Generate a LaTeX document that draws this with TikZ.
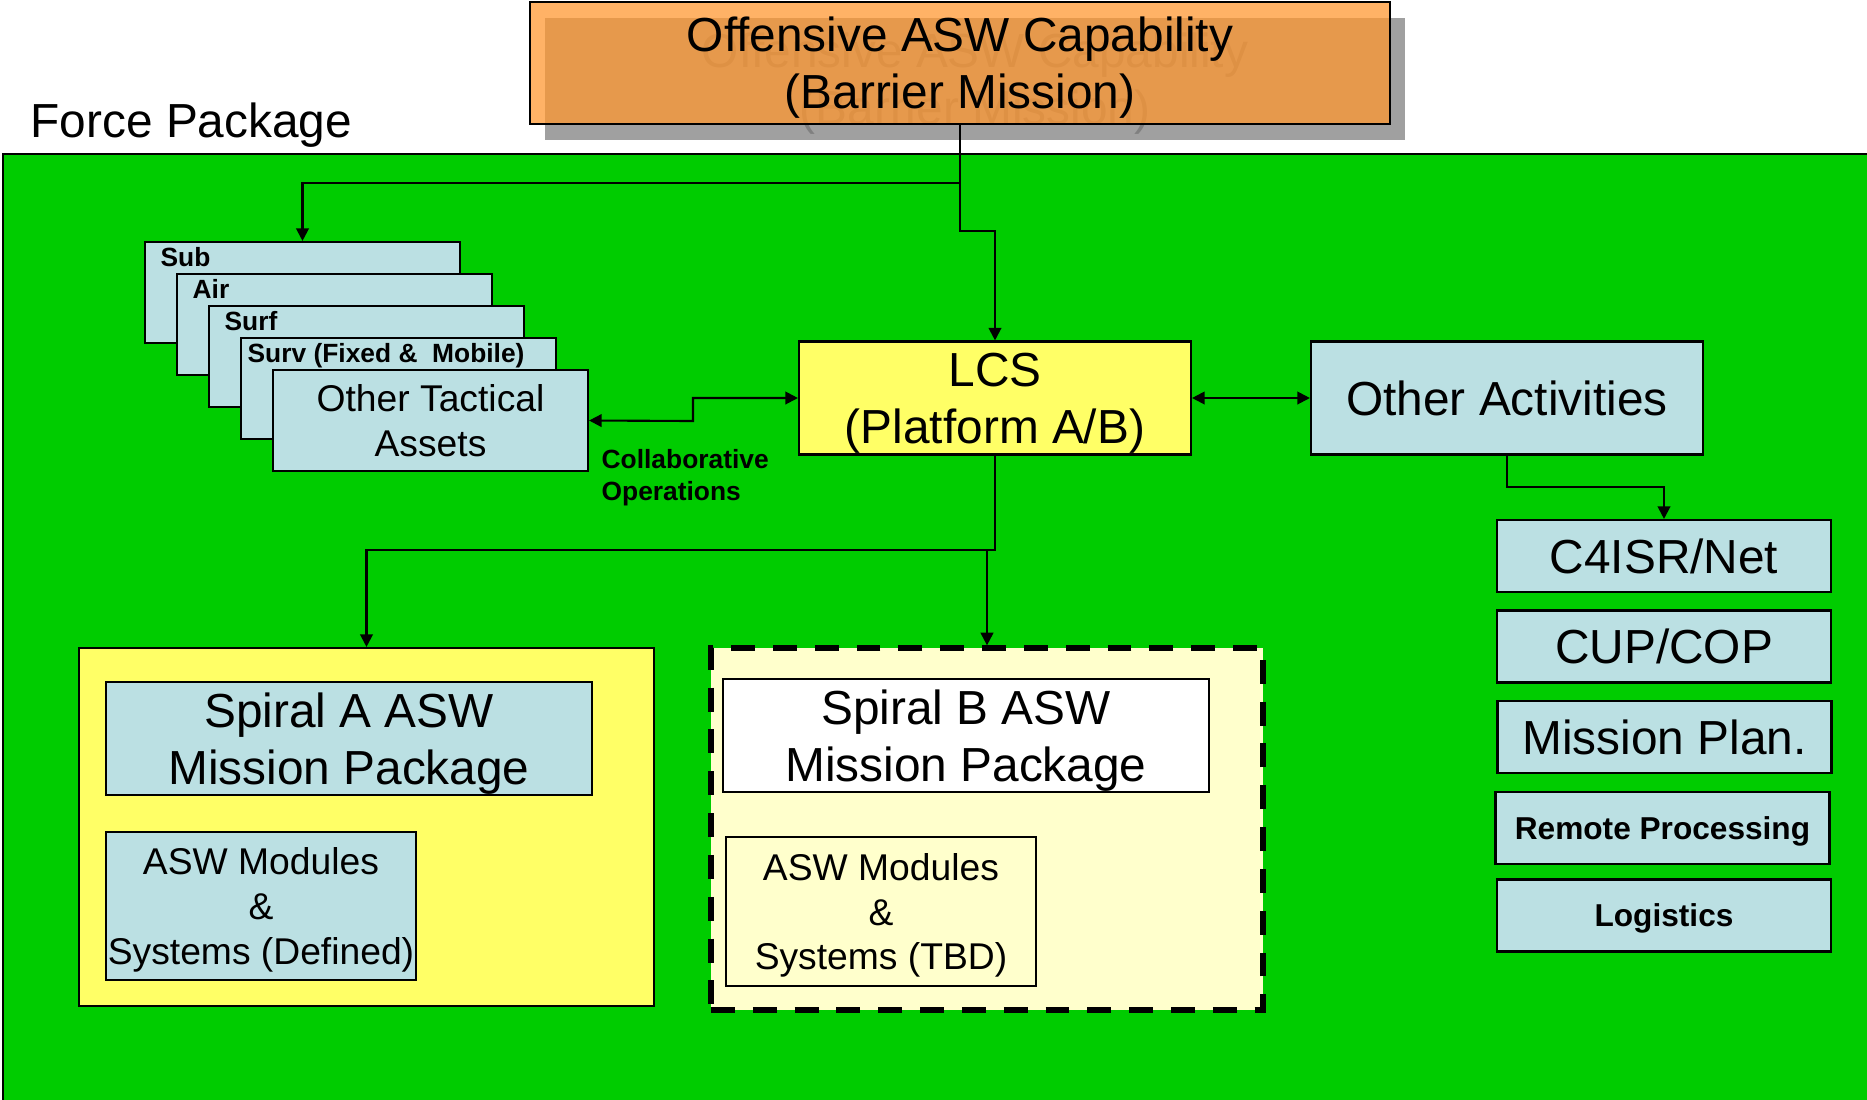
\documentclass[tikz,border=0pt]{standalone}
\usepackage{fontspec}
\setmainfont{Liberation Sans}
\usepackage{tikz}
\usetikzlibrary{arrows.meta,positioning}

\definecolor{fieldGreen}{HTML}{00CC00}
\definecolor{capOrange}{HTML}{FF9730}
\definecolor{shadowGray}{HTML}{A0A0A0}
\definecolor{ghostGray}{HTML}{808080}
\definecolor{paleBlue}{HTML}{BBE0E3}
\definecolor{lcsYellow}{HTML}{FFFF66}
\definecolor{paleYellow}{HTML}{FFFFCC}

\newcommand{\bigtxt}{\fontsize{13.6}{16.3}\selectfont}
\newcommand{\midtxt}{\fontsize{10.6}{12.7}\selectfont}
\newcommand{\boldtxt}{\fontsize{9}{10.8}\selectfont\bfseries}
\newcommand{\tagtxt}{\fontsize{7.5}{9}\selectfont\bfseries}

\begin{document}
\begin{tikzpicture}[
  >={Triangle[length=3.6pt,width=3.6pt]},
  box/.style={draw=black, line width=0.6pt, align=center, inner sep=0pt, text depth=0pt},
  bluebox/.style={box, fill=paleBlue},
  stackbox/.style={bluebox, minimum width=3.15cm, minimum height=1.01cm},
  tag/.style={font=\tagtxt, anchor=base west, inner sep=0pt},
  listbox/.style={bluebox, minimum width=3.34cm, minimum height=0.72cm},
  wire/.style={line width=0.6pt}
]
\useasboundingbox (0,0) rectangle (18.67,-10.99);

% Green field
\fill[fieldGreen] (0.03,-1.54) rectangle (18.80,-11.10);
\draw[wire] (0.03,-11.10) -- (0.03,-1.54) -- (18.80,-1.54);
\node[anchor=west, font=\bigtxt, inner sep=0pt, text depth=0pt] (force) at (0.30,-1.20) {Force Package};

% Top box with its shadow
\node[fill=shadowGray, text=ghostGray, align=center, inner sep=0pt, text depth=0pt,
      minimum width=8.60cm, minimum height=1.22cm, font=\bigtxt]
  (capshadow) at (9.75,-0.79) {Offensive ASW Capability\\(Barrier Mission)};
\node[box, fill=capOrange, fill opacity=0.74, text opacity=1,
      minimum width=8.60cm, minimum height=1.22cm, font=\bigtxt]
  (cap) at (9.60,-0.63) {Offensive ASW Capability\\(Barrier Mission)};

% Stacked assets
\node[stackbox] (sub) at (3.025,-2.925) {};
\node[tag] (subtag) at ([xshift=0.16cm,yshift=-0.26cm]sub.north west) {Sub};
\node[stackbox] (air) at (3.345,-3.245) {};
\node[tag] (airtag) at ([xshift=0.16cm,yshift=-0.26cm]air.north west) {Air};
\node[stackbox] (surf) at (3.665,-3.565) {};
\node[tag] (surftag) at ([xshift=0.16cm,yshift=-0.26cm]surf.north west) {Surf};
\node[stackbox] (surv) at (3.985,-3.885) {};
\node[tag] (survtag) at ([xshift=0.07cm,yshift=-0.26cm]surv.north west) {Surv (Fixed \&\ \ Mobile)};
\node[stackbox, font=\midtxt] (ota) at (4.305,-4.205) {Other Tactical\\Assets};

% Platform and other activities
\node[box, fill=lcsYellow, minimum width=3.92cm, minimum height=1.13cm, font=\bigtxt]
  (lcs) at (9.95,-3.98) {LCS\\(Platform A/B)};
\node[bluebox, minimum width=3.92cm, minimum height=1.13cm, font=\bigtxt]
  (oth) at (15.07,-3.98) {Other Activities};
\node[anchor=west, align=left, inner sep=0pt, text depth=0pt, font=\tagtxt]
  (collab) at (6.01,-4.75) {Collaborative\\Operations};

% Right column
\node[listbox, font=\bigtxt] (c4) at (16.64,-5.56) {C4ISR/Net};
\node[listbox, font=\bigtxt] (cup) at (16.64,-6.465) {CUP/COP};
\node[listbox, font=\bigtxt] (plan) at (16.645,-7.37) {Mission Plan.};
\node[listbox, font=\boldtxt] (remote) at (16.625,-8.28) {Remote Processing};
\node[listbox, font=\boldtxt] (logi) at (16.64,-9.155) {Logistics};

% Spiral A
\node[box, fill=lcsYellow, minimum width=5.75cm, minimum height=3.58cm] (spa) at (3.665,-8.27) {};
\node[bluebox, minimum width=4.86cm, minimum height=1.13cm, font=\bigtxt]
  (spamp) at (3.49,-7.385) {Spiral A ASW\\Mission Package};
\node[bluebox, minimum width=3.10cm, minimum height=1.48cm, font=\midtxt]
  (spamod) at (2.61,-9.06) {ASW Modules\\\&\\Systems (Defined)};

% Spiral B
\node[box, fill=paleYellow, line width=1.5pt, dash pattern=on 6.8pt off 5.1pt,
      minimum width=5.52cm, minimum height=3.62cm] (spb) at (9.87,-8.29) {};
\node[box, fill=white, minimum width=4.86cm, minimum height=1.13cm, font=\bigtxt]
  (spbmp) at (9.66,-7.355) {Spiral B ASW\\Mission Package};
\node[box, fill=paleYellow, minimum width=3.10cm, minimum height=1.49cm, font=\midtxt]
  (spbmod) at (8.81,-9.115) {ASW Modules\\\&\\Systems (TBD)};

% Connectors
\coordinate (split) at (9.60,-1.83);
\coordinate (bend) at (9.60,-2.31);
\coordinate (jog) at (6.93,-4.21);
\coordinate (fork) at (9.95,-5.50);
\coordinate (drop) at (15.07,-4.87);

\draw[wire, ->] (cap.south) -- (split) -| (sub.north);
\draw[wire, ->] (split) -- (bend) -| (lcs.north);
\draw[wire, <->] (ota.east) -- (jog) |- (lcs.west);
\draw[wire, <->] (lcs.east) -- (oth.west);
\draw[wire, ->] (lcs.south) -- (fork) -| (spa.north);
\draw[wire, ->] (spb.north |- fork) -- (spb.north);
\draw[wire, ->] (oth.south) -- (drop) -| (c4.north);

\end{tikzpicture}
\end{document}
